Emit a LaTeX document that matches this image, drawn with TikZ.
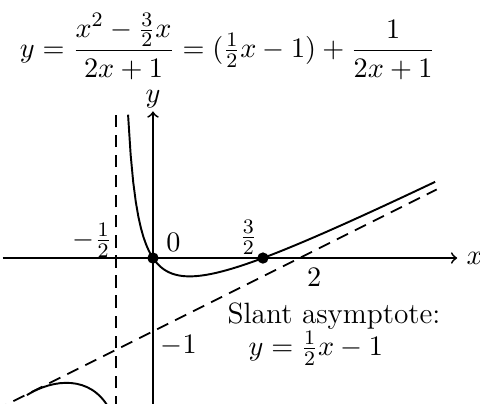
\documentclass[tikz,border=0pt]{standalone}
\usepackage{amsmath}
\begin{document}
\begin{tikzpicture}[font=\fontsize{11.4}{14}\selectfont]
    \tikzstyle{axis} = [line width=0.7pt,->]
    \tikzstyle{asym} = [line width=0.7pt,dash pattern=on 4.8pt off 3pt]
    \tikzstyle{graph} = [line width=0.75pt]
    \tikzstyle{dot} = [circle, fill, inner sep=0pt, minimum size=4.4pt]
    \useasboundingbox (-2.087,-1.978) rectangle (4.461,3.520);

    \coordinate (xmin) at (-2.05,0);
    \coordinate (xmax) at (4.15,0);
    \coordinate (ymin) at (0,-2.05);
    \coordinate (ymax) at (0,2);
    \coordinate (vtop) at (-0.5,1.98);
    \coordinate (vbot) at (-0.5,-2.05);
    \coordinate (sbot) at (-2.15,-2.075);
    \coordinate (stop) at (3.87,0.935);

    \draw [axis] (xmin) -- (xmax) node [right] (xlab) {$x$};
    \draw [axis] (ymin) -- (ymax) node [above, inner sep=1pt] (ylab) {$y$};
    \draw [asym] (vbot) -- (vtop);
    \draw [asym] (sbot) -- (stop);

    \draw [graph] plot [domain=-0.34:3.85, samples=120] (\x, {\x/2-1+1/(2*\x+1)});
    \draw [graph] (-1.72,-1.87) .. controls (-1.35,-1.64) and (-0.85,-1.6) .. (-0.6,-2.05);

    \node [dot] (O) at (0,0) {};
    \node [dot] (root) at (1.5,0) {};

    \node (half) at (-0.83,0.24) {$-\frac{1}{2}$};
    \node (zero) at (0.28,0.21) {$0$};
    \node (threehalf) at (1.30,0.28) {$\frac{3}{2}$};
    \node (two) at (2.2,-0.26) {$2$};
    \node (minusone) at (0.35,-1.19) {$-1$};
    \node (slant) at (2.47,-0.79) {Slant asymptote:};
    \node (slanteq) at (2.22,-1.23) {$y=\frac{1}{2}x-1$};

    \node (title) at (1.02,2.89) {$\displaystyle y=\frac{x^2-\frac{3}{2}x}{2x+1}=(\tfrac{1}{2}x-1)+\frac{1}{2x+1}$};
\end{tikzpicture}
\end{document}
